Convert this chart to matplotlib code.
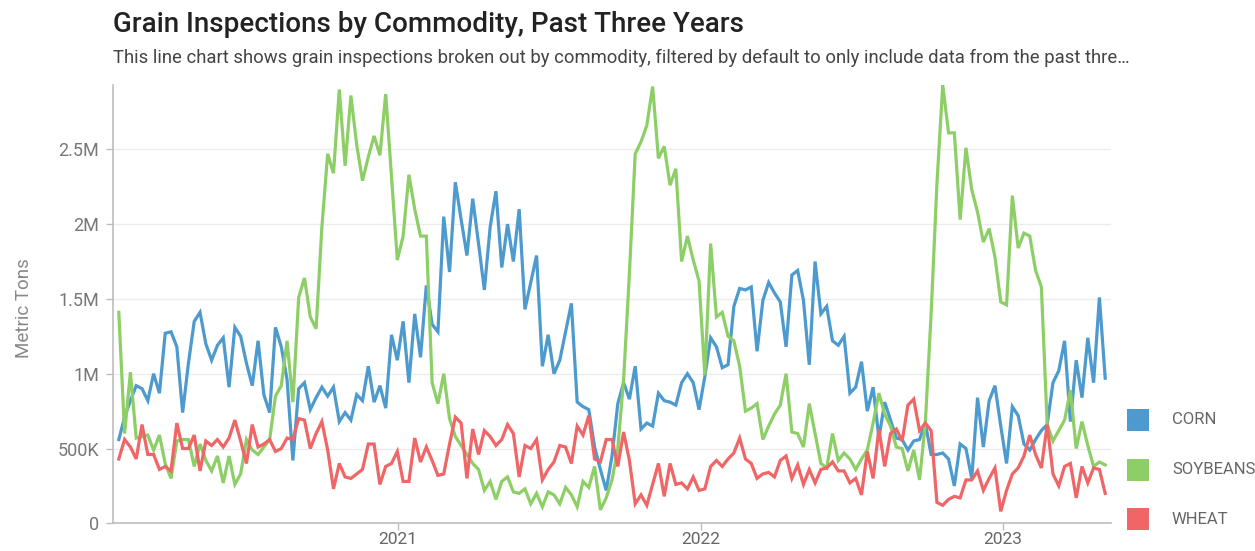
#!/usr/bin/env python3

import datetime as dt

import matplotlib
matplotlib.use("Agg")
import matplotlib.pyplot as plt
import matplotlib.dates as mdates
from matplotlib.patches import Rectangle
from matplotlib.ticker import FuncFormatter

plt.rcParams["font.family"] = ["Roboto", "DejaVu Sans"]

# weekly inspections, million metric tons, first week ending 2020-01-30
start_date = dt.date(2020, 1, 30)

corn = [
    0.56, 0.71, 0.82, 0.92, 0.90, 0.82, 1.00, 0.87, 1.27, 1.28,
    1.18, 0.74, 1.07, 1.35, 1.41, 1.20, 1.09, 1.19, 1.24, 0.91,
    1.31, 1.25, 1.07, 0.92, 1.22, 0.86, 0.74, 1.31, 1.18, 0.96,
    0.42, 0.90, 0.94, 0.76, 0.84, 0.91, 0.85, 0.91, 0.68, 0.74,
    0.69, 0.86, 0.82, 1.05, 0.81, 0.92, 0.77, 1.26, 1.09, 1.35,
    0.94, 1.40, 1.11, 1.59, 1.33, 1.28, 2.05, 1.68, 2.28, 2.03,
    1.79, 2.17, 1.87, 1.56, 1.98, 2.22, 1.71, 2.00, 1.75, 2.10,
    1.43, 1.61, 1.79, 1.05, 1.26, 1.00, 1.09, 1.28, 1.47, 0.81,
    0.78, 0.76, 0.51, 0.36, 0.22, 0.45, 0.80, 0.94, 0.83, 1.05,
    0.63, 0.67, 0.65, 0.87, 0.82, 0.81, 0.79, 0.94, 1.00, 0.94,
    0.76, 0.98, 1.24, 1.18, 1.04, 1.06, 1.45, 1.57, 1.56, 1.58,
    1.15, 1.49, 1.61, 1.54, 1.48, 1.18, 1.66, 1.69, 1.49, 1.06,
    1.75, 1.40, 1.45, 1.22, 1.19, 1.25, 0.87, 0.91, 1.08, 0.75,
    0.91, 0.57, 0.81, 0.69, 0.57, 0.56, 0.49, 0.55, 0.56, 0.67,
    0.46, 0.46, 0.47, 0.43, 0.25, 0.53, 0.50, 0.30, 0.84, 0.51,
    0.82, 0.92, 0.65, 0.40, 0.78, 0.72, 0.53, 0.49, 0.56, 0.62,
    0.66, 0.94, 1.02, 1.22, 0.68, 1.09, 0.84, 1.24, 0.94, 1.51,
    0.97,
]

soybeans = [
    1.41, 0.60, 1.01, 0.57, 0.58, 0.59, 0.49, 0.59, 0.40, 0.30,
    0.55, 0.56, 0.56, 0.38, 0.53, 0.42, 0.35, 0.45, 0.27, 0.45,
    0.26, 0.33, 0.56, 0.49, 0.46, 0.51, 0.56, 0.85, 0.92, 1.22,
    0.81, 1.51, 1.64, 1.38, 1.30, 1.98, 2.47, 2.34, 2.90, 2.39,
    2.86, 2.53, 2.29, 2.45, 2.59, 2.46, 2.87, 2.32, 1.76, 1.92,
    2.33, 2.10, 1.92, 1.92, 0.94, 0.80, 1.00, 0.70, 0.58, 0.52,
    0.46, 0.40, 0.36, 0.22, 0.28, 0.16, 0.28, 0.31, 0.21, 0.20,
    0.23, 0.13, 0.20, 0.11, 0.21, 0.19, 0.13, 0.24, 0.19, 0.11,
    0.28, 0.24, 0.38, 0.09, 0.17, 0.29, 0.50, 0.96, 1.67, 2.47,
    2.55, 2.66, 2.92, 2.44, 2.52, 2.26, 2.37, 1.75, 1.92, 1.76,
    1.62, 0.99, 1.87, 1.38, 1.41, 1.25, 1.22, 1.05, 0.75, 0.77,
    0.80, 0.56, 0.65, 0.73, 0.79, 1.00, 0.61, 0.60, 0.51, 0.80,
    0.60, 0.40, 0.37, 0.60, 0.42, 0.47, 0.43, 0.36, 0.43, 0.49,
    0.67, 0.87, 0.73, 0.65, 0.51, 0.50, 0.35, 0.49, 0.29, 0.67,
    1.40, 2.27, 2.93, 2.61, 2.61, 2.03, 2.51, 2.23, 2.08, 1.88,
    1.97, 1.78, 1.48, 1.46, 2.19, 1.84, 1.94, 1.92, 1.69, 1.58,
    0.66, 0.55, 0.62, 0.69, 0.89, 0.50, 0.68, 0.52, 0.38, 0.41,
    0.39,
]

wheat = [
    0.43, 0.56, 0.51, 0.43, 0.66, 0.46, 0.46, 0.36, 0.38, 0.35,
    0.67, 0.50, 0.50, 0.59, 0.35, 0.55, 0.52, 0.56, 0.51, 0.57,
    0.69, 0.55, 0.40, 0.66, 0.51, 0.53, 0.56, 0.48, 0.50, 0.57,
    0.56, 0.70, 0.69, 0.50, 0.60, 0.68, 0.49, 0.23, 0.40, 0.31,
    0.30, 0.33, 0.36, 0.53, 0.53, 0.26, 0.38, 0.40, 0.48, 0.28,
    0.28, 0.57, 0.41, 0.51, 0.42, 0.32, 0.33, 0.53, 0.71, 0.67,
    0.30, 0.63, 0.46, 0.62, 0.58, 0.52, 0.56, 0.66, 0.60, 0.31,
    0.52, 0.50, 0.56, 0.29, 0.36, 0.41, 0.52, 0.51, 0.40, 0.65,
    0.59, 0.72, 0.43, 0.41, 0.56, 0.56, 0.38, 0.61, 0.42, 0.13,
    0.19, 0.12, 0.26, 0.40, 0.18, 0.40, 0.26, 0.27, 0.23, 0.31,
    0.22, 0.23, 0.38, 0.42, 0.38, 0.43, 0.47, 0.57, 0.43, 0.40,
    0.30, 0.33, 0.34, 0.31, 0.42, 0.45, 0.30, 0.39, 0.26, 0.36,
    0.27, 0.36, 0.37, 0.41, 0.35, 0.35, 0.27, 0.30, 0.19, 0.48,
    0.30, 0.63, 0.38, 0.60, 0.63, 0.55, 0.79, 0.83, 0.62, 0.67,
    0.62, 0.14, 0.12, 0.16, 0.18, 0.17, 0.29, 0.29, 0.35, 0.22,
    0.30, 0.37, 0.08, 0.22, 0.33, 0.37, 0.45, 0.59, 0.46, 0.37,
    0.66, 0.33, 0.25, 0.38, 0.40, 0.17, 0.38, 0.27, 0.37, 0.36,
    0.20,
]

series_names = ["CORN", "SOYBEANS", "WHEAT"]
series_colors = ["#4c9ace", "#8dcf66", "#f06566"]

y_ticks = [0, 0.5e6, 1e6, 1.5e6, 2e6, 2.5e6]


def fmt_tons(value, pos):
    if value == 0:
        return "0"
    if value < 1e6:
        return f"{value / 1e3:g}K"
    return f"{value / 1e6:g}M"


def main():
    dates = [start_date + dt.timedelta(weeks=i) for i in range(len(corn))]

    fig = plt.figure(figsize=(12.55, 5.51), dpi=100)
    ax = fig.add_axes([113 / 1255, 1 - 523.3 / 551, 998 / 1255, 438.3 / 551])

    for values, name, color in zip([corn, soybeans, wheat], series_names, series_colors):
        ax.plot(dates, [v * 1e6 for v in values], color=color, lw=2.3,
                solid_joinstyle="miter", label=name)

    ax.set_xlim(dates[0] - dt.timedelta(days=7), dates[-1] + dt.timedelta(days=7))
    ax.set_ylim(0, 2.93e6)

    ax.set_yticks(y_ticks)
    ax.yaxis.set_major_formatter(FuncFormatter(fmt_tons))
    ax.xaxis.set_major_locator(mdates.YearLocator())
    ax.xaxis.set_major_formatter(mdates.DateFormatter("%Y"))

    ax.grid(axis="y", color="#ececec", lw=1)
    ax.set_axisbelow(True)
    for side in ["top", "right"]:
        ax.spines[side].set_visible(False)
    for side in ["left", "bottom"]:
        ax.spines[side].set_color("#bdbdbd")
        ax.spines[side].set_linewidth(1.2)

    ax.tick_params(axis="y", length=5, width=1, color="#bdbdbd", pad=5,
                   labelsize=13, labelcolor="#777777")
    ax.tick_params(axis="x", length=5, width=1, color="#bdbdbd", pad=1.5,
                   labelsize=12.5, labelcolor="#666666")

    ax.set_ylabel("Metric Tons", fontsize=13.5, color="#888888")
    ax.yaxis.set_label_coords(-0.080, 0.49)

    fig.text(113 / 1255, 1 - 24 / 551, "Grain Inspections by Commodity, Past Three Years",
             fontsize=20, fontweight="medium", color="#222222", va="center", ha="left")
    fig.text(113 / 1255, 1 - 58 / 551,
             "This line chart shows grain inspections broken out by commodity, "
             "filtered by default to only include data from the past thre\u2026",
             fontsize=13.3, color="#444444", va="center", ha="left")

    # legend drawn by hand on the right side
    for k, (name, color) in enumerate(zip(series_names, series_colors)):
        y_top = 409 + k * 49.5
        fig.add_artist(Rectangle((1127 / 1255, 1 - (y_top + 22) / 551), 22 / 1255, 22 / 551,
                                 transform=fig.transFigure, facecolor=color,
                                 edgecolor="none"))
        fig.text(1172 / 1255, 1 - (y_top + 11) / 551, name, fontsize=12,
                 color="#666666", va="center", ha="left")

    fig.savefig("out.png", dpi=100)


if __name__ == "__main__":
    main()
